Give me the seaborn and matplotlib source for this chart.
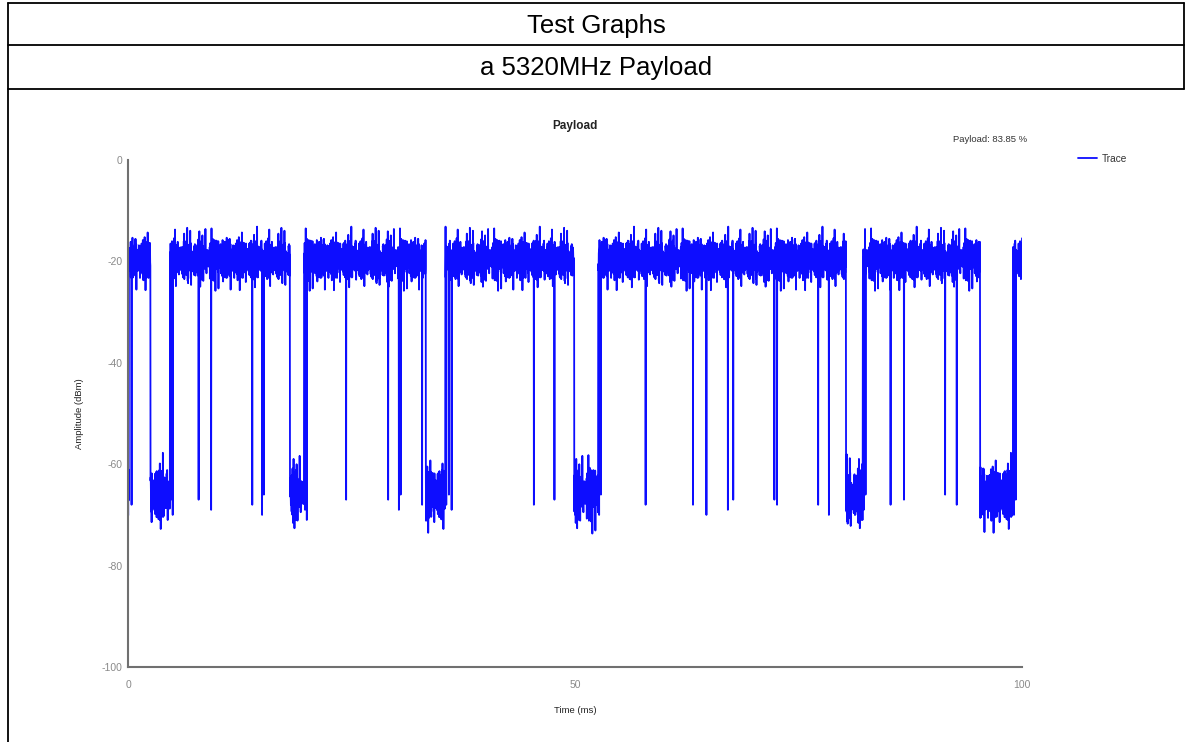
import numpy as np
import pandas as pd
import seaborn as sns
import matplotlib
matplotlib.use("Agg")
import matplotlib.pyplot as plt
from matplotlib.lines import Line2D

# burst (payload on) intervals, ms
burst_start = [0.1, 4.7, 19.7, 35.5, 52.6, 82.2, 99.0]
burst_end = [2.5, 18.1, 33.3, 49.9, 80.3, 95.3, 100.0]
burst_level = -19.7   # dBm
off_level = -66.0     # dBm

# short drops inside the bursts (time ms, bottom dBm)
dip_times = [0.4, 4.8, 5.0, 7.9, 9.3, 13.9, 15.0, 15.2, 19.8, 20.0,
             24.4, 29.1, 30.3, 30.5, 32.9, 35.6, 35.9, 36.2, 45.4, 47.7,
             52.7, 52.9, 57.9, 63.2, 64.7, 67.1, 67.7, 72.3, 72.6, 77.2,
             78.4, 82.3, 82.5, 85.3, 86.8, 91.4, 92.7, 99.1, 99.3]
dip_levels = [-68, -67, -70, -67, -69, -68, -70, -66, -69, -71,
              -67, -67, -69, -66, -68, -68, -66, -69, -68, -67,
              -70, -66, -68, -68, -70, -69, -67, -67, -68, -68,
              -70, -69, -66, -68, -67, -66, -68, -70, -67]

# hand-read ripple of the trace (dB offsets)
jitter_a = [0.8, -1.9, 2.3, -0.6, 1.4, -2.5, 0.2, 1.9, -1.1, 2.6, -2.2,
            0.5, -1.6, 1.1, -0.3, 2.1, -2.4, 1.6, -0.9, 0.3, -1.8, 2.4,
            -0.4, 1.2, -2.6, 0.7, -1.3, 1.8, -2.0, 0.1, 2.2]
jitter_b = [0.4, -0.9, 1.1, -0.2, 0.7, -1.2, 0.9, -0.5, 3.1, -0.8, 0.3,
            -1.0, 0.6, -2.7, 0.2, 1.0, -0.6]

payload_pct = 83.85
step = 0.02

times = np.round(np.arange(0, 100.0 + step / 2, step), 3)
amps = []
for i, t in enumerate(times):
    ja = jitter_a[i % len(jitter_a)]
    jb = jitter_b[i % len(jitter_b)]
    on = any(s <= t <= e for s, e in zip(burst_start, burst_end))
    if on:
        amps.append(burst_level + 1.15 * (ja + jb))
    else:
        amps.append(off_level + 1.5 * ja + 1.4 * jb)
amps = np.array(amps)
for dt, dl in zip(dip_times, dip_levels):
    amps[int(round(dt / step))] = dl

df = pd.DataFrame({"Time (ms)": times, "Amplitude (dBm)": amps})

sns.set_style("white")
plt.rcParams["font.family"] = ["Liberation Sans", "DejaVu Sans"]
plt.rcParams["axes.unicode_minus"] = False

W, H = 1189, 742
fig = plt.figure(figsize=(W / 100, H / 100), dpi=100)
ax = fig.add_axes([128 / W, 1 - 667 / H, (1022 - 128) / W, (667 - 160) / H])

sns.lineplot(data=df, x="Time (ms)", y="Amplitude (dBm)", ax=ax,
             color="#0d0dff", linewidth=1.3, estimator=None, sort=False,
             label="Trace")

ax.set_xlim(0, 100)
ax.set_ylim(-100, 0)
ax.set_xticks([0, 50, 100])
ax.set_yticks([0, -20, -40, -60, -80, -100])
ax.tick_params(axis="both", length=0, labelsize=7.5, labelcolor="#8a8a8a")
ax.tick_params(axis="x", pad=9)
ax.tick_params(axis="y", pad=4)
ax.set_xlabel("Time (ms)", fontsize=6.8, color="#222222", labelpad=12)
ax.set_ylabel("Amplitude (dBm)", fontsize=6.8, color="#222222", labelpad=13)
for side in ["top", "right"]:
    ax.spines[side].set_visible(False)
for side in ["left", "bottom"]:
    ax.spines[side].set_color("#707070")
    ax.spines[side].set_linewidth(1.5)

ax.set_title("Payload", fontsize=8.5, fontweight="bold", color="#222222", pad=22)
fig.text(1027 / W, 1 - 139 / H, f"Payload: {payload_pct:.2f} %", fontsize=6.8,
         color="#333333", ha="right", va="center")

leg = ax.legend(loc="center left", bbox_to_anchor=(1069 / W, 1 - 159 / H),
                bbox_transform=fig.transFigure, frameon=False, fontsize=7.3,
                handlelength=1.9, handletextpad=0.4)
for txt in leg.get_texts():
    txt.set_color("#333333")

# report table frame
def fline(x0, y0, x1, y1):
    fig.add_artist(Line2D([x0 / W, x1 / W], [1 - y0 / H, 1 - y1 / H],
                          transform=fig.transFigure, color="black", linewidth=1.3))

fline(8, 3, 1184, 3)
fline(8, 45, 1184, 45)
fline(8, 89, 1184, 89)
fline(8, 3, 8, 742)
fline(1184, 3, 1184, 89)

fig.text(596 / W, 1 - 26 / H, "Test Graphs", fontsize=18.5, color="black",
         ha="center", va="center")
fig.text(596 / W, 1 - 68 / H, "a 5320MHz Payload", fontsize=18.5, color="black",
         ha="center", va="center")

fig.savefig("out.png", dpi=100)
